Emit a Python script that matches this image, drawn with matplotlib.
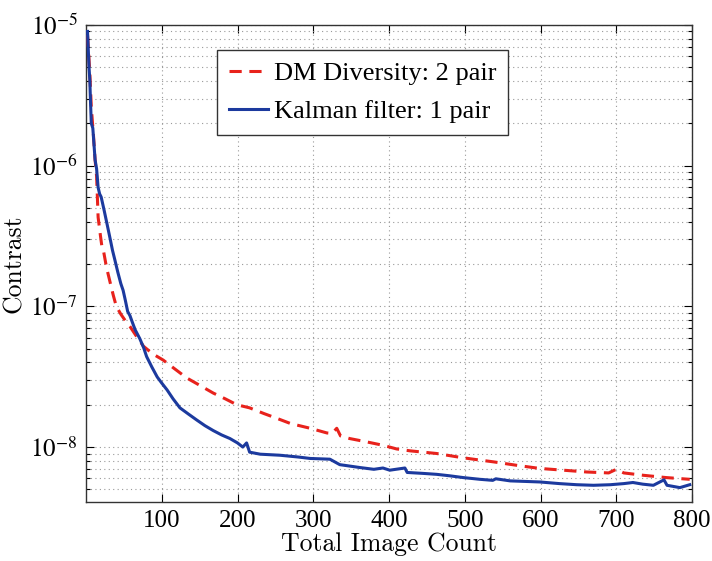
import matplotlib
matplotlib.use("Agg")
import matplotlib.pyplot as plt
from matplotlib.ticker import LogLocator, NullFormatter, FixedLocator

plt.rcParams['font.family'] = ['Liberation Serif', 'DejaVu Serif']
plt.rcParams['mathtext.fontset'] = 'stix'

# Kalman filter: 1 pair
kalman_x = [2, 4, 5, 6, 7, 9, 12, 14, 16, 18, 20, 24, 28, 32, 35, 38, 42, 46, 49, 52,
            55, 58, 62, 65, 71, 76, 80, 87, 94, 100, 107, 115, 124, 135, 146, 157, 168,
            179, 190, 200, 207, 212, 216, 230, 256, 280, 296, 322, 335, 362, 380, 392,
            401, 421, 424, 445, 463, 480, 498, 520, 537, 541, 560, 599, 625, 648, 670,
            692, 710, 722, 735, 749, 763, 767, 784, 797]
kalman_y = [9.0e-6, 5.0e-6, 4.1e-6, 2.8e-6, 2.0e-6, 1.85e-6, 1.1e-6, 9.5e-7, 7.0e-7,
            6.3e-7, 6.0e-7, 4.8e-7, 3.8e-7, 3.0e-7, 2.5e-7, 2.15e-7, 1.75e-7, 1.45e-7,
            1.3e-7, 1.1e-7, 9.2e-8, 8.6e-8, 7.5e-8, 6.8e-8, 5.9e-8, 5.1e-8, 4.4e-8,
            3.7e-8, 3.15e-8, 2.85e-8, 2.55e-8, 2.2e-8, 1.9e-8, 1.72e-8, 1.56e-8,
            1.42e-8, 1.31e-8, 1.22e-8, 1.15e-8, 1.07e-8, 1.0e-8, 1.07e-8, 9.2e-9,
            8.9e-9, 8.75e-9, 8.5e-9, 8.3e-9, 8.2e-9, 7.5e-9, 7.15e-9, 6.95e-9, 7.1e-9,
            6.85e-9, 7.1e-9, 6.6e-9, 6.5e-9, 6.4e-9, 6.25e-9, 6.07e-9, 5.9e-9, 5.8e-9,
            5.95e-9, 5.75e-9, 5.65e-9, 5.5e-9, 5.4e-9, 5.35e-9, 5.4e-9, 5.5e-9, 5.6e-9,
            5.45e-9, 5.35e-9, 5.85e-9, 5.35e-9, 5.15e-9, 5.4e-9]

# DM Diversity: 2 pair
dm_x = [2, 5, 7, 10, 12, 14, 16, 19, 21, 23, 27, 32, 36, 40, 46, 52, 58, 66, 76, 88,
        102, 117, 133, 150, 168, 184, 199, 216, 235, 252, 270, 296, 318, 325, 331, 336,
        348, 370, 392, 410, 428, 463, 494, 515, 538, 570, 599, 630, 661, 690, 700, 710,
        736, 766, 797]
dm_y = [8.5e-6, 4.6e-6, 2.6e-6, 1.6e-6, 1.1e-6, 8.4e-7, 4.3e-7, 3.2e-7, 2.66e-7,
        2.5e-7, 1.9e-7, 1.47e-7, 1.2e-7, 1.0e-7, 8.8e-8, 7.9e-8, 7.2e-8, 6.2e-8,
        5.2e-8, 4.6e-8, 4.15e-8, 3.6e-8, 3.1e-8, 2.75e-8, 2.42e-8, 2.2e-8, 2.0e-8,
        1.9e-8, 1.73e-8, 1.6e-8, 1.47e-8, 1.36e-8, 1.26e-8, 1.25e-8, 1.36e-8, 1.2e-8,
        1.15e-8, 1.09e-8, 1.03e-8, 9.7e-9, 9.4e-9, 9.0e-9, 8.45e-9, 8.15e-9, 7.85e-9,
        7.4e-9, 7.05e-9, 6.85e-9, 6.65e-9, 6.55e-9, 6.95e-9, 6.55e-9, 6.3e-9, 6.07e-9,
        5.9e-9]

x_ticks = [100, 200, 300, 400, 500, 600, 700, 800]
y_ticks = [1e-8, 1e-7, 1e-6, 1e-5]
y_tick_labels = [r'$10^{-8}$', r'$10^{-7}$', r'$10^{-6}$', r'$10^{-5}$']

fig = plt.figure(figsize=(7.12, 5.61), dpi=100)
ax = fig.add_axes([86/712, 59/561, 606/712, 477/561])

ax.plot(dm_x, dm_y, color='#e8221c', lw=2.2, dashes=(4, 2.5),
        label='DM Diversity: 2 pair', zorder=3)
ax.plot(kalman_x, kalman_y, color='#1c3a9e', lw=2.2,
        label='Kalman filter: 1 pair', zorder=4)

ax.set_yscale('log')
ax.set_xlim(0, 800)
ax.set_ylim(4.07e-9, 1e-5)
ax.set_xticks(x_ticks)
ax.set_xticklabels([str(v) for v in x_ticks])
ax.yaxis.set_major_locator(FixedLocator(y_ticks))
ax.set_yticklabels(y_tick_labels)
ax.yaxis.set_minor_locator(LogLocator(base=10, subs=range(2, 10), numticks=20))
ax.yaxis.set_minor_formatter(NullFormatter())

ax.tick_params(which='both', direction='in', top=True, right=True)
ax.tick_params(which='major', length=6, width=0.8, labelsize=18, pad=6)
ax.tick_params(which='minor', length=3, width=0.8)

ax.grid(True, which='major', axis='x', linestyle=(0, (1, 3)), color='#999999', lw=0.8)
ax.grid(True, which='both', axis='y', linestyle=(0, (1, 3)), color='#999999', lw=0.8)

for s in ax.spines.values():
    s.set_linewidth(1.0)
    s.set_color('#333333')

ax.set_xlabel('Total Image Count', family='cmr10', fontsize=18.5, labelpad=0)
ax.set_ylabel('Contrast', family='cmr10', fontsize=18.5, labelpad=3)

leg = ax.legend(loc='upper left', bbox_to_anchor=(0.216, 0.948), fontsize=19,
                fancybox=False, framealpha=1, edgecolor='#333333',
                handlelength=1.5, handletextpad=0.2, borderpad=0.45,
                labelspacing=0.55, borderaxespad=0)
leg.get_frame().set_linewidth(1.0)

fig.savefig('out.png', dpi=100)
